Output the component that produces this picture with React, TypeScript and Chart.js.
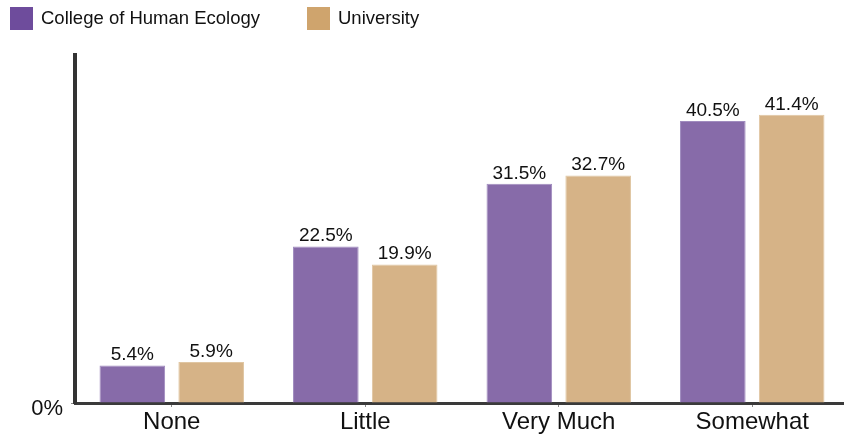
import React, { useEffect, useRef } from "react";
import { Chart, registerables } from "chart.js";

Chart.register(...registerables);

const categories = ["None", "Little", "Very Much", "Somewhat"];
const collegeValues = [5.4, 22.5, 31.5, 40.5];
const universityValues = [5.9, 19.9, 32.7, 41.4];
const seriesNames = ["College of Human Ecology", "University"];
const yTickLabels = ["0%"];

const FONT = '"Liberation Sans", Arial, sans-serif';
const legendColors = ["#6E4C9C", "#CFA46D"];

const legendPlugin = {
  id: "customLegend",
  afterDraw(chart: any) {
    const ctx = chart.ctx;
    ctx.save();
    const xs = [10, 307];
    chart.data.datasets.forEach((ds: any, i: number) => {
      const x = xs[i];
      ctx.fillStyle = legendColors[i];
      ctx.fillRect(x, 7, 23, 23);
      ctx.fillStyle = "#111";
      ctx.font = `18.5px ${FONT}`;
      ctx.textAlign = "left";
      ctx.textBaseline = "middle";
      ctx.fillText(ds.label, x + 31, 19);
    });
    ctx.restore();
  },
};

const valueLabelPlugin = {
  id: "valueLabels",
  afterDatasetsDraw(chart: any) {
    const ctx = chart.ctx;
    ctx.save();
    ctx.font = `19px ${FONT}`;
    ctx.fillStyle = "#111";
    ctx.textAlign = "center";
    ctx.textBaseline = "alphabetic";
    chart.data.datasets.forEach((ds: any, di: number) => {
      const meta = chart.getDatasetMeta(di);
      meta.data.forEach((el: any, i: number) => {
        ctx.fillText(`${ds.data[i].toFixed(1)}%`, el.x, el.y - 5);
      });
    });
    ctx.restore();
  },
};

export default function App() {
  const ref = useRef<HTMLCanvasElement>(null);
  useEffect(() => {
    document.body.style.margin = "0";
    document.body.style.overflow = "hidden";
    const chart = new Chart(ref.current!, {
      type: "bar",
      data: {
        labels: categories,
        datasets: [
          {
            label: seriesNames[0],
            data: collegeValues,
            backgroundColor: "#876BA9",
            borderColor: "#A08CBF",
            borderWidth: 1,
          },
          {
            label: seriesNames[1],
            data: universityValues,
            backgroundColor: "#D6B387",
            borderColor: "#E0C6A2",
            borderWidth: 1,
          },
        ],
      },
      options: {
        responsive: false,
        animation: false,
        layout: { padding: { top: 55, right: 0, left: 0, bottom: 0 } },
        datasets: {
          bar: { categoryPercentage: 0.815, barPercentage: 0.832 },
        },
        plugins: {
          legend: { display: false },
          tooltip: { enabled: false },
        },
        scales: {
          x: {
            grid: {
              offset: false,
              drawOnChartArea: false,
              drawTicks: true,
              tickLength: 4,
              color: "#888",
              lineWidth: 1,
            },
            border: { display: true, color: "#3A3A3A", width: 3 },
            ticks: {
              color: "#111",
              font: { family: FONT, size: 24 },
              padding: 1,
              maxRotation: 0,
            },
            afterFit(scale: any) {
              scale.height = 36;
            },
          },
          y: {
            min: 0,
            max: 50,
            grid: {
              drawOnChartArea: false,
              drawTicks: true,
              tickLength: 4,
              color: (c: any) => (c.tick && c.tick.value === 0 ? "#888" : "rgba(0,0,0,0)"),
              lineWidth: 1,
            },
            border: { display: true, color: "#333", width: 4 },
            ticks: {
              stepSize: 50,
              color: "#111",
              font: { family: FONT, size: 22, lineHeight: 0.55 },
              padding: 8,
              callback: (v: any) => (v === 0 ? ["", yTickLabels[0]] : ""),
            },
            afterFit(scale: any) {
              scale.width = 75;
            },
          },
        },
      },
      plugins: [legendPlugin, valueLabelPlugin],
    });
    return () => chart.destroy();
  }, []);
  return (
    <div style={{ width: 844, height: 439, overflow: "hidden" }}>
      <canvas ref={ref} width={849} height={439} style={{ display: "block" }} />
    </div>
  );
}
